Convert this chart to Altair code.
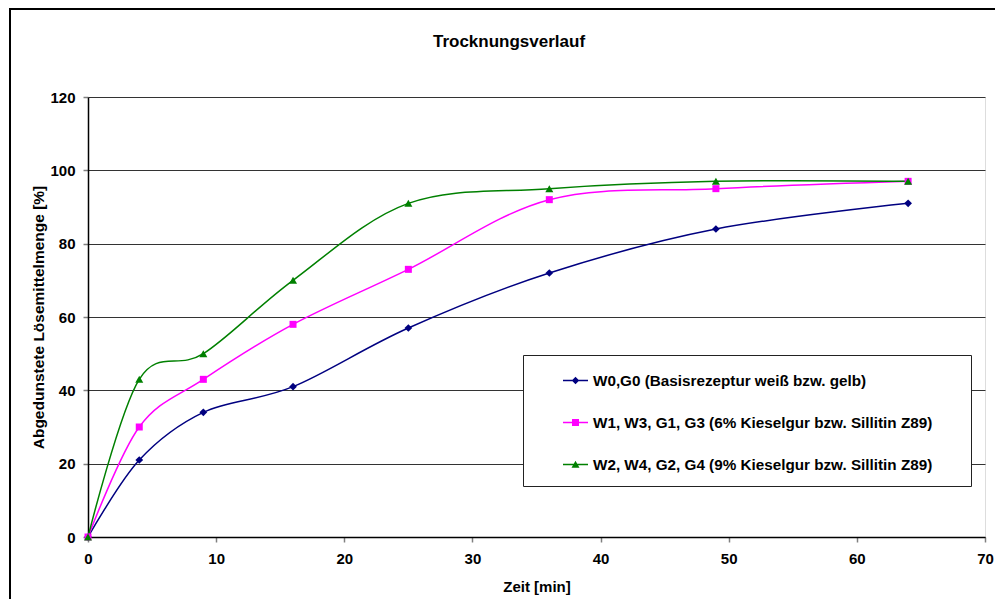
import altair as alt
import pandas as pd

# ---- data ----
zeit = [0, 4, 9, 16, 25, 36, 49, 64]
serie_w0 = [0, 21, 34, 41, 57, 72, 84, 91]
serie_w1 = [0, 30, 43, 58, 73, 92, 95, 97]
serie_w2 = [0, 43, 50, 70, 91, 95, 97, 97]
namen = [
    "W0,G0 (Basisrezeptur weiß bzw. gelb)",
    "W1, W3, G1, G3 (6% Kieselgur bzw. Sillitin Z89)",
    "W2, W4, G2, G4 (9% Kieselgur bzw. Sillitin Z89)",
]
farben = ["#000080", "#FF00FF", "#008000"]
marker = ["diamond", "square", "triangle-up"]
x_ticks = [0, 10, 20, 30, 40, 50, 60, 70]
y_ticks = [0, 20, 40, 60, 80, 100, 120]
titel = "Trocknungsverlauf"
x_titel = "Zeit [min]"
y_titel = "Abgedunstete Lösemittelmenge [%]"

rows = []
for name, werte in zip(namen, [serie_w0, serie_w1, serie_w2]):
    for t, v in zip(zeit, werte):
        rows.append({"zeit": t, "wert": v, "serie": name})
df = pd.DataFrame(rows)

FONT = "Liberation Sans"

# legend symbols: short line + marker (unit square -1..1)
line_part = "M-1,-0.06L1,-0.06L1,0.06L-1,0.06Z"
legend_paths = [
    line_part + "M-0.3,0L0,-0.3L0.3,0L0,0.3Z",
    line_part + "M-0.28,-0.28L0.28,-0.28L0.28,0.28L-0.28,0.28Z",
    line_part + "M-0.32,0.26L0,-0.3L0.32,0.26Z",
]

x_enc = alt.X(
    "zeit:Q",
    scale=alt.Scale(domain=[0, 70], nice=False, zero=False),
    axis=alt.Axis(
        values=x_ticks, title=x_titel, grid=False, labelFlush=False,
        domainColor="black", domainWidth=1.5,
        tickColor="#808080", tickSize=5, tickWidth=1.5,
        labelFont=FONT, labelFontSize=15, labelFontWeight="bold", labelColor="black",
        labelPadding=9,
        titleFont=FONT, titleFontSize=15, titleFontWeight="bold", titleColor="black",
        titleY=49, titleBaseline="middle",
    ),
)
y_enc = alt.Y(
    "wert:Q",
    scale=alt.Scale(domain=[0, 120], nice=False),
    axis=alt.Axis(
        values=y_ticks, title=y_titel, grid=True, gridColor="#333333", gridWidth=1,
        labelFlush=False,
        domainColor="black", domainWidth=1.5,
        tickColor="#808080", tickSize=5, tickWidth=1.5,
        labelFont=FONT, labelFontSize=15, labelFontWeight="bold", labelColor="black",
        labelPadding=8,
        titleFont=FONT, titleFontSize=15.5, titleFontWeight="bold", titleColor="black",
        titleX=-50, titleBaseline="middle",
    ),
)
color_scale = alt.Scale(domain=namen, range=farben)

line_layers = []
point_layers = []
for name, farbe, form, size in zip(namen, farben, marker, [60, 49, 64]):
    base = alt.Chart(df).transform_filter(alt.datum.serie == name)
    line_layers.append(
        base.mark_line(interpolate="cardinal", strokeWidth=1.5, color=farbe)
        .encode(x=x_enc, y=y_enc)
    )
    point_layers.append(
        base.mark_point(filled=True, shape=form, size=size, opacity=1, color=farbe)
        .encode(x=x_enc, y=y_enc)
    )

pad_tail = "      \u200b"
legend_def = alt.Legend(
    title=None, orient="none", legendX=435, legendY=258,
    padding=13, strokeColor="#222222", fillColor="white",
    symbolSize=625, symbolStrokeWidth=0, symbolOffset=27,
    labelFont=FONT, labelFontSize=15.25, labelFontWeight="bold", labelColor="black",
    labelOffset=5, labelLimit=0, rowPadding=21,
    labelExpr="datum.label + '" + pad_tail + "'",
)

legend_layer = alt.Chart(df).mark_point(filled=True, size=1, opacity=1).encode(
    x=x_enc, y=y_enc,
    color=alt.Color("serie:N", scale=color_scale, legend=legend_def),
    shape=alt.Shape("serie:N", scale=alt.Scale(domain=namen, range=legend_paths), legend=legend_def),
)

one = pd.DataFrame({"a": [0]})
title_mark = alt.Chart(one).mark_text(
    text=titel, font=FONT, fontSize=17, fontWeight="bold", color="black",
    align="center", baseline="middle",
).encode(x=alt.value(421), y=alt.value(-55))

border_top = alt.Chart(one).mark_rule(color="black", strokeWidth=2).encode(
    x=alt.value(-79), x2=alt.value(910), y=alt.value(-88)
)
border_left = alt.Chart(one).mark_rule(color="black", strokeWidth=2).encode(
    x=alt.value(-78), y=alt.value(-89), y2=alt.value(520)
)

chart = alt.layer(
    border_top, border_left, title_mark, *line_layers, legend_layer, *point_layers
).properties(
    width=897, height=440,
    padding={"left": 80, "top": 89, "right": 10, "bottom": 62},
    autosize="none",
).configure_view(
    stroke="#777777", strokeWidth=1.5
).configure(background="white")

chart.save("out.html", embed_options={"renderer": "svg", "actions": False})
